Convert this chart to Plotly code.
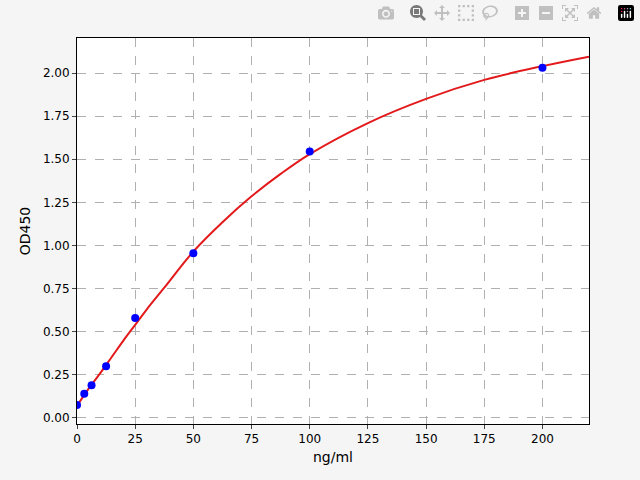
import plotly.graph_objects as go

conc = [0, 3.125, 6.25, 12.5, 25, 50, 100, 200]
od = [0.075, 0.14, 0.19, 0.30, 0.58, 0.955, 1.545, 2.03]
curve_x = [0, 5, 10, 15, 20, 25, 30, 37.5, 50, 62.5, 75, 87.5, 100, 125, 150, 175, 200, 220]
curve_y = [0.07, 0.17, 0.26, 0.355, 0.45, 0.54, 0.63, 0.755, 0.965, 1.135, 1.285, 1.415, 1.53, 1.71, 1.85, 1.96, 2.04, 2.095]
xticks = [0, 25, 50, 75, 100, 125, 150, 175, 200]
yticks = [0.0, 0.25, 0.5, 0.75, 1.0, 1.25, 1.5, 1.75, 2.0]

fig = go.Figure()
fig.add_trace(go.Scatter(x=curve_x, y=curve_y, mode="lines",
                         line=dict(color="#e31a1c", width=2, shape="spline", smoothing=1.0)))
fig.add_trace(go.Scatter(x=conc, y=od, mode="markers",
                         marker=dict(color="blue", size=8)))
ax = dict(showline=True, linecolor="black", mirror=True, ticks="outside",
          ticklen=4, gridcolor="#b0b0b0", griddash="dash", zeroline=False,
          tickfont=dict(size=12, color="black"))
fig.update_layout(
    width=640, height=480, showlegend=False,
    paper_bgcolor="#f5f5f5", plot_bgcolor="white",
    margin=dict(l=77, r=51, t=38, b=56),
    font=dict(family="DejaVu Sans", size=12, color="black"),
    xaxis=dict(ax, range=[0, 220], tickvals=xticks,
               ticktext=[str(v) for v in xticks],
               title=dict(text="ng/ml", standoff=6)),
    yaxis=dict(ax, range=[-0.035, 2.203], tickvals=yticks,
               ticktext=[f"{v:.2f}" for v in yticks],
               title=dict(text="OD450", standoff=8)),
)
fig.write_html("out.html",
               post_script="document.body.style.margin='0';document.body.style.background='#f5f5f5';")
